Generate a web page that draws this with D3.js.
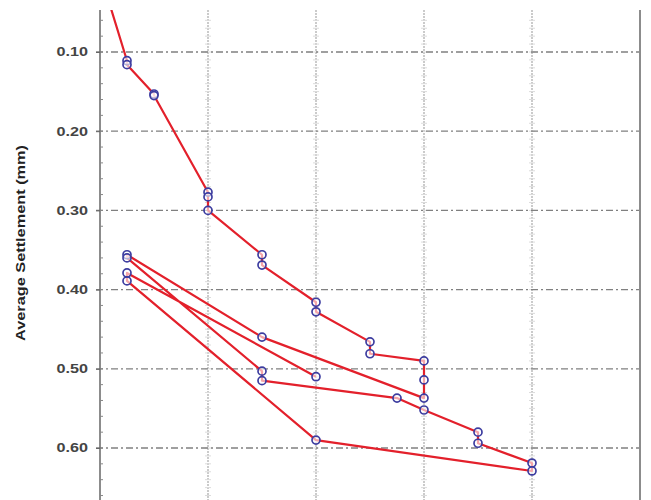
<!DOCTYPE html>
<html>
<head>
<meta charset="utf-8">
<script src="https://cdn.jsdelivr.net/npm/d3@7"></script>
<style>
  html, body { margin: 0; padding: 0; background: #fff; }
  svg { display: block; }
</style>
</head>
<body>
<div id="chart"></div>
<script>
// load steps and readings, in the order they were taken
var loads = [0, 0.25, 0.25, 0.5, 0.5, 1, 1, 1, 1.5, 1.5, 2, 2, 2.5, 2.5, 3, 3, 3,
    1.5, 0.25, 0.25, 1.5, 1.5, 2.75, 3, 3.5, 3.5, 4, 4, 2, 0.25, 0.25, 2];
var settlements = [0, 0.111, 0.116, 0.153, 0.155, 0.277, 0.283, 0.300, 0.356, 0.369, 0.416, 0.428, 0.466, 0.481, 0.490, 0.514, 0.537,
    0.460, 0.356, 0.360, 0.503, 0.515, 0.537, 0.552, 0.580, 0.594, 0.619, 0.629, 0.590, 0.389, 0.379, 0.510];
var yTicks = [0.10, 0.20, 0.30, 0.40, 0.50, 0.60];
var xGrid = [1, 2, 3, 4];
var yTitle = "Average Settlement (mm)";

function render() {
    const width = 651;
    const height = 500;
    const top = 10, left = 100, right = 640, bottom = 520;

    const data = loads.map((l, i) => ({ load: l, s: settlements[i] }));

    const x = d3.scaleLinear().domain([0, 5]).range([left, right]);
    const y = d3.scaleLinear().domain([0.1, 0.6]).range([52, 448]);

    const svg = d3.select("#chart")
        .append("svg")
        .attr("width", width)
        .attr("height", height)
        .style("font-family", "'Liberation Sans', Arial, sans-serif");

    svg.append("clipPath").attr("id", "plot")
        .append("rect")
        .attr("x", left).attr("y", top)
        .attr("width", right - left).attr("height", bottom - top);

    // vertical grid
    svg.selectAll(".vgrid")
        .data(xGrid).enter()
        .append("line")
        .attr("x1", d => x(d)).attr("x2", d => x(d))
        .attr("y1", top).attr("y2", bottom)
        .attr("stroke", "#b0b0b0")
        .attr("stroke-width", 1.3)
        .attr("stroke-dasharray", "2,1");

    // little minor ticks along the vertical grid
    const minor = d3.range(0.06, 0.67, 0.01);
    xGrid.forEach(g => {
        svg.append("g").selectAll("line")
            .data(minor).enter()
            .append("line")
            .attr("x1", x(g) - 3).attr("x2", x(g) + 3)
            .attr("y1", d => y(d)).attr("y2", d => y(d))
            .attr("stroke", "#dcdcdc");
    });

    // horizontal grid, dash-dot
    svg.selectAll(".hgrid")
        .data(yTicks).enter()
        .append("line")
        .attr("x1", left - 4).attr("x2", right)
        .attr("y1", d => y(d)).attr("y2", d => y(d))
        .attr("stroke", "#808080")
        .attr("stroke-width", 1.3)
        .attr("stroke-dasharray", "7,3,2,3");

    // right border
    svg.append("line")
        .attr("x1", right).attr("x2", right)
        .attr("y1", top).attr("y2", bottom)
        .attr("stroke", "#8c8c8c")
        .attr("stroke-width", 2);

    // left axis
    const leftAxis = d3.axisLeft(y)
        .tickValues(yTicks)
        .tickFormat(d3.format(".2f"))
        .tickSize(4)
        .tickPadding(8);

    const ax = svg.append("g")
        .attr("transform", `translate(${left}, 0)`)
        .call(leftAxis);
    ax.select(".domain").remove();
    ax.selectAll(".tick line").attr("stroke", "#666");
    ax.selectAll("text")
        .style("font-size", "12px")
        .style("font-weight", "bold")
        .attr("fill", "#444")
        .attr("transform", "scale(1.35,1)")
        .attr("x", -12 / 1.35);

    svg.append("line")
        .attr("x1", left).attr("x2", left)
        .attr("y1", top).attr("y2", bottom)
        .attr("stroke", "#666")
        .attr("stroke-width", 1.5);

    svg.append("g").selectAll("line")
        .data(d3.range(0.06, 0.67, 0.02)).enter()
        .append("line")
        .attr("x1", left).attr("x2", left + 3)
        .attr("y1", d => y(d)).attr("y2", d => y(d))
        .attr("stroke", "#888");

    svg.append("text")
        .attr("transform", `translate(22, 243) rotate(-90)`)
        .attr("text-anchor", "middle")
        .attr("dominant-baseline", "middle")
        .style("font-size", "13px")
        .style("font-weight", "bold")
        .attr("fill", "#222")
        .attr("textLength", 196)
        .attr("lengthAdjust", "spacingAndGlyphs")
        .text(yTitle);

    const g = svg.append("g").attr("clip-path", "url(#plot)");

    const line = d3.line().x(d => x(d.load)).y(d => y(d.s));

    g.append("path")
        .datum(data)
        .attr("d", line)
        .attr("fill", "none")
        .attr("stroke", "#e3202b")
        .attr("stroke-width", 2.2)
        .attr("stroke-linejoin", "round");

    g.selectAll("circle")
        .data(data).enter()
        .append("circle")
        .attr("cx", d => x(d.load))
        .attr("cy", d => y(d.s))
        .attr("r", 4)
        .attr("fill", "#fff")
        .attr("fill-opacity", 0.6)
        .attr("stroke", "#3d3da0")
        .attr("stroke-width", 1.7);
}

render();
</script>
</body>
</html>
